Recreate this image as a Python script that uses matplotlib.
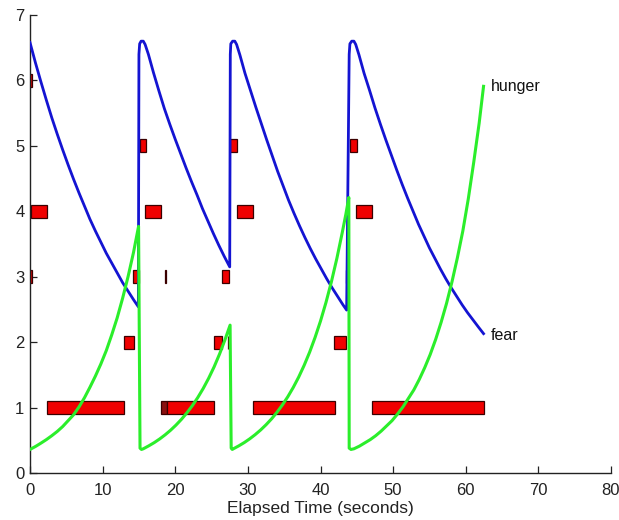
import matplotlib
matplotlib.use("Agg")
import matplotlib.pyplot as plt

plt.rcParams['font.family'] = ['Liberation Sans', 'DejaVu Sans']

# ---- data ----
fear_t = [0, 0.75, 1.5, 2.25, 3.0, 3.75, 4.5, 5.25, 6.0, 6.75, 7.5, 8.25, 9.0, 9.75, 10.5,
          11.25, 12.0, 12.75, 13.5, 14.25, 14.92,
          15.0, 15.1, 15.3, 15.6, 15.85, 16.3, 17.0, 17.75, 18.5, 19.25, 20.0, 20.75, 21.5,
          22.25, 23.0, 23.75, 24.5, 25.25, 26.0, 26.75, 27.5,
          27.58, 27.65, 27.9, 28.2, 28.45, 28.9, 29.6, 30.35, 31.1, 31.85, 32.6, 33.35, 34.1,
          34.85, 35.6, 36.35, 37.1, 37.85, 38.6, 39.35, 40.1, 40.85, 41.6, 42.35, 43.1, 43.6,
          43.95, 44.05, 44.3, 44.6, 44.85, 45.3, 46.0, 46.75, 47.5, 48.25, 49.0, 49.75, 50.5,
          51.25, 52.0, 52.75, 53.5, 54.25, 55.0, 55.75, 56.5, 57.25, 58.0, 58.75, 59.5, 60.25,
          61.0, 61.75, 62.45]
fear_v = [6.58, 6.27, 5.98, 5.70, 5.43, 5.18, 4.94, 4.71, 4.49, 4.28, 4.08, 3.88, 3.70, 3.53, 3.36,
          3.21, 3.06, 2.91, 2.78, 2.65, 2.54,
          6.40, 6.56, 6.60, 6.60, 6.55, 6.40, 6.12, 5.84, 5.57, 5.33, 5.10, 4.88, 4.66,
          4.45, 4.25, 4.04, 3.85, 3.66, 3.48, 3.31, 3.15,
          6.40, 6.56, 6.60, 6.60, 6.55, 6.39, 6.11, 5.85, 5.59, 5.34, 5.09, 4.85, 4.61,
          4.39, 4.17, 3.97, 3.78, 3.60, 3.43, 3.27, 3.12, 2.97, 2.83, 2.70, 2.57, 2.49,
          6.40, 6.56, 6.60, 6.60, 6.55, 6.39, 6.11, 5.85, 5.58, 5.33, 5.09, 4.86, 4.63,
          4.41, 4.20, 4.00, 3.80, 3.62, 3.44, 3.28, 3.12, 2.97, 2.83, 2.70, 2.57, 2.45,
          2.34, 2.23, 2.13]

hunger_t = [0, 0.75, 1.5, 2.25, 3.0, 3.75, 4.5, 5.25, 6.0, 6.75, 7.5, 8.25, 9.0, 9.75, 10.5,
            11.25, 12.0, 12.75, 13.5, 14.25, 14.95,
            15.15, 15.35, 15.6, 16.35, 17.1, 17.85, 18.6, 19.35, 20.1, 20.85, 21.6, 22.35, 23.1,
            23.85, 24.6, 25.35, 26.1, 26.85, 27.55,
            27.7, 27.85, 28.0, 28.75, 29.5, 30.25, 31.0, 31.75, 32.5, 33.25, 34.0, 34.75, 35.5,
            36.25, 37.0, 37.75, 38.5, 39.25, 40.0, 40.75, 41.5, 42.25, 43.0, 43.5, 43.9,
            43.95, 44.2, 44.6, 45.35, 46.1, 46.85, 47.6, 48.35, 49.1, 49.85, 50.6, 51.35, 52.1,
            52.85, 53.6, 54.35, 55.1, 55.85, 56.6, 57.35, 58.1, 58.85, 59.6, 60.35, 61.1, 61.85,
            62.45]
hunger_v = [0.36, 0.405, 0.456, 0.51, 0.57, 0.635, 0.71, 0.80, 0.89, 1.01, 1.15, 1.31, 1.48,
            1.665, 1.87, 2.11, 2.37, 2.67, 3.00, 3.37, 3.77,
            0.38, 0.36, 0.37, 0.415, 0.464, 0.52, 0.583, 0.653, 0.732, 0.82, 0.919, 1.029, 1.153,
            1.292, 1.448, 1.622, 1.818, 2.037, 2.26,
            0.38, 0.36, 0.37, 0.415, 0.465, 0.522, 0.586, 0.657, 0.737, 0.826, 0.927, 1.04, 1.166,
            1.308, 1.467, 1.646, 1.846, 2.071, 2.322, 2.605, 2.922, 3.278, 3.677, 3.96, 4.21,
            0.38, 0.36, 0.37, 0.41, 0.46, 0.51, 0.57, 0.64, 0.72, 0.80, 0.90, 1.01, 1.14,
            1.27, 1.43, 1.61, 1.81, 2.04, 2.30, 2.59, 2.92, 3.29, 3.70, 4.19, 4.75, 5.35,
            5.91]

# behaviour bars: level, start, end
bar_level = [1, 1, 1, 1, 1,
             2, 2, 2, 2,
             3, 3, 3, 3, 3,
             4, 4, 4, 4,
             5, 5, 5,
             6]
bar_start = [2.4, 18.1, 18.8, 30.7, 47.1,
             12.95, 25.3, 27.27, 41.9,
             0.0, 14.2, 18.65, 26.4, 43.45,
             0.1, 15.9, 28.45, 44.9,
             15.1, 27.6, 44.1,
             0.0]
bar_end = [12.9, 18.8, 25.3, 42.0, 62.5,
           14.3, 26.5, 27.33, 43.5,
           0.3, 14.95, 18.75, 27.35, 43.7,
           2.4, 18.1, 30.75, 47.15,
           15.95, 28.55, 45.0,
           0.3]
bar_dark = [False, True, False, False, False,
            False, False, True, False,
            False, False, True, False, True,
            False, False, False, False,
            False, False, False,
            False]

x_ticks = [0, 10, 20, 30, 40, 50, 60, 70, 80]
y_ticks = [0, 1, 2, 3, 4, 5, 6, 7]
x_label = "Elapsed Time (seconds)"

# ---- plot ----
fig = plt.figure(figsize=(6.19, 5.20), dpi=100)
ax = fig.add_axes([30 / 619, 47 / 520, 581 / 619, 458 / 520])

for lv, s, e, dk in zip(bar_level, bar_start, bar_end, bar_dark):
    ax.barh(lv, e - s, left=s, height=0.2,
            color='#8a1010' if dk else '#f00000',
            edgecolor='#3a0000', linewidth=0.9, zorder=2)

ax.plot(fear_t, fear_v, color='#1414d2', lw=2.0, zorder=3, solid_joinstyle='round')
ax.plot(hunger_t, hunger_v, color='#2bee2b', lw=2.2, zorder=4, solid_joinstyle='round')

ax.text(63.5, 5.91, 'hunger', fontsize=11.5, va='center', ha='left', color='#111111')
ax.text(63.5, 2.10, 'fear', fontsize=11.5, va='center', ha='left', color='#111111')

ax.set_xlim(0, 80)
ax.set_ylim(0, 7)
ax.set_xticks(x_ticks)
ax.set_yticks(y_ticks)
ax.tick_params(direction='in', length=5, width=0.9, colors='#222222', labelsize=12)
ax.tick_params(axis='x', pad=7)
ax.tick_params(axis='y', pad=4)
for side in ['top', 'right']:
    ax.spines[side].set_visible(False)
for side in ['left', 'bottom']:
    ax.spines[side].set_color('#222222')
    ax.spines[side].set_linewidth(1.0)
ax.set_xlabel(x_label, fontsize=12.5, color='#222222', labelpad=2)

fig.savefig('out.png', dpi=100)
